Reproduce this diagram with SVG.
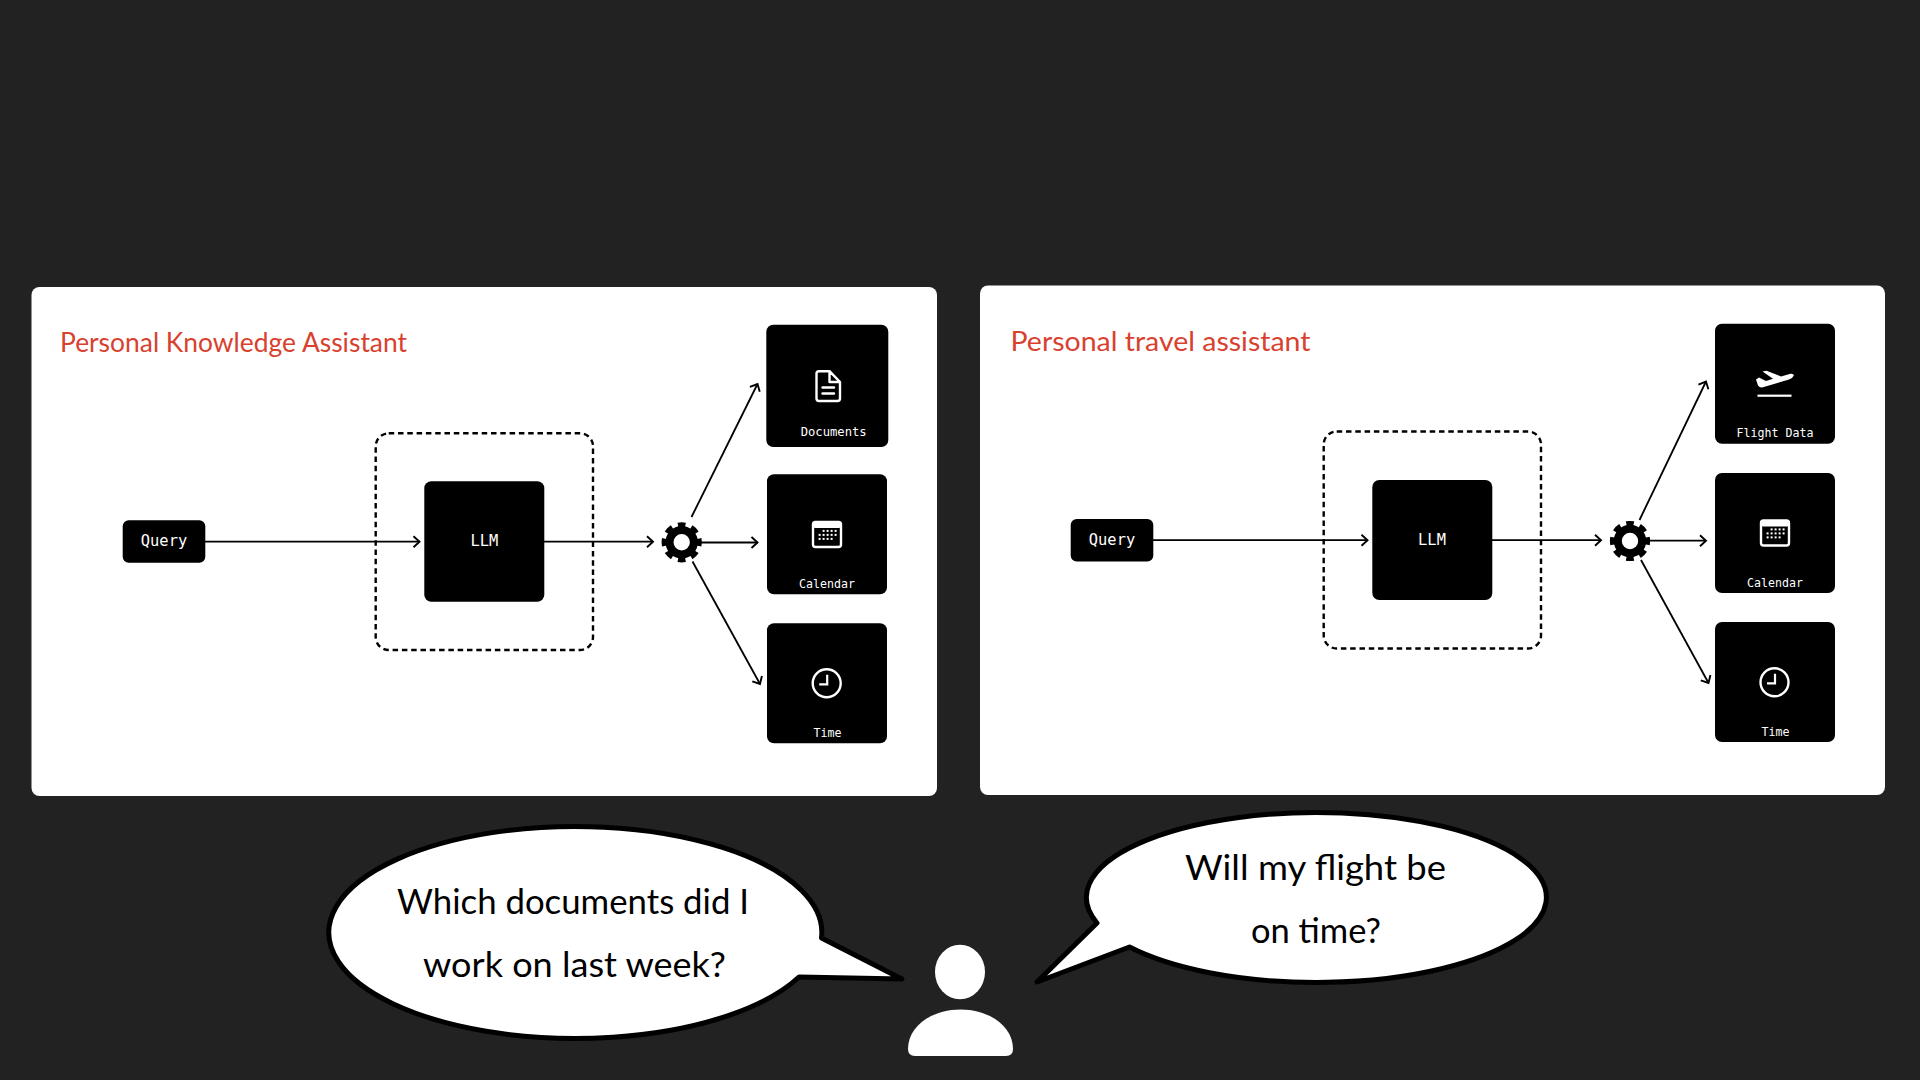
<svg xmlns="http://www.w3.org/2000/svg" xmlns:xlink="http://www.w3.org/1999/xlink" width="1920" height="1080" viewBox="0 0 1920 1080">
<style>
.panel{fill:#fff}
.tile{fill:#000}
.dash{fill:none;stroke:#000;stroke-width:2.4;stroke-dasharray:5.5 3.8}
.link{fill:none;stroke:#000;stroke-width:1.8;marker-end:url(#arrow)}
.mono{font-family:"DejaVu Sans Mono","Liberation Mono",monospace;fill:#fff}
.hand{font-family:"Lato","Open Sans",sans-serif}
.title{fill:#d9412f;font-size:27px;font-weight:400}
.say{fill:#000;font-size:35px;font-weight:400}
.bubble{fill:#fff;stroke:#000;stroke-width:5;stroke-linejoin:round}
.ico{fill:none;stroke:#fff;stroke-width:2.4;stroke-linejoin:round;stroke-linecap:round}
</style>
<defs>
<marker id="arrow" markerUnits="userSpaceOnUse" markerWidth="14" markerHeight="14" refX="9" refY="7" orient="auto">
<path d="M3 1.5L9 7L3 12.5" fill="none" stroke="#000" stroke-width="1.9"/>
</marker>
<g id="gear">
<circle r="12.2" fill="none" stroke="#000" stroke-width="8"/>
<circle r="17.6" fill="none" stroke="#000" stroke-width="5" pathLength="80" stroke-dasharray="5.5 4.5" stroke-dashoffset="2.75"/>
</g>
<g id="cal">
<rect x="-14" y="-12.5" width="28" height="25" rx="2.5" fill="none" stroke="#fff" stroke-width="2.4"/>
<rect x="-14" y="-12.5" width="28" height="6" rx="2" fill="#fff"/>
<g fill="#fff">
<rect x="-4.400" y="-4.600" width="2" height="2"/><rect x="-.4" y="-4.600" width="2" height="2"/><rect x="3.600" y="-4.600" width="2" height="2"/><rect x="7.600" y="-4.600" width="2" height="2"/>
<rect x="-8.400" y="-.6" width="2" height="2"/><rect x="-4.400" y="-.6" width="2" height="2"/><rect x="-.4" y="-.6" width="2" height="2"/><rect x="3.600" y="-.6" width="2" height="2"/><rect x="7.600" y="-.6" width="2" height="2"/>
<rect x="-8.400" y="3.400" width="2" height="2"/><rect x="-4.400" y="3.400" width="2" height="2"/><rect x="-.4" y="3.400" width="2" height="2"/><rect x="3.600" y="3.400" width="2" height="2"/>
</g>
</g>
<g id="clock">
<circle r="14" fill="none" stroke="#fff" stroke-width="2.4"/>
<path d="M0.5 -8.500V1H-7.500" fill="none" stroke="#fff" stroke-width="2.2"/>
</g>
</defs>
<rect width="1920" height="1080" fill="#222222"/>

<g id="panel-left">
<rect class="panel" x="31.5" y="287" width="905.5" height="509" rx="8"/>
<text class="hand title" x="60" y="352" textLength="347" lengthAdjust="spacingAndGlyphs">Personal Knowledge Assistant</text>
</g>
<g id="panel-right">
<rect class="panel" x="980" y="285.500" width="905" height="509.500" rx="8"/>
<text class="hand title" x="1010.500" y="351" textLength="300" lengthAdjust="spacingAndGlyphs">Personal travel assistant</text>
</g>

<g id="connectors">
<path class="link" d="M205 541.700H419.500"/>
<path class="link" d="M544 541.700H653"/>
<path class="link" d="M691.500 517L757.500 384"/>
<path class="link" d="M700 542.500H757.500"/>
<path class="link" d="M692.500 561.500L760 684"/>
<path class="link" d="M1153 540.200H1367.500"/>
<path class="link" d="M1492 540.200H1601"/>
<path class="link" d="M1639.500 520L1706 381.500"/>
<path class="link" d="M1648 540.700H1706"/>
<path class="link" d="M1641 560L1708.500 683"/>
</g>

<g id="left-flow">
<g id="query-left"><rect class="tile" x="122.700" y="520.300" width="82.600" height="42.400" rx="6"/><text class="mono" x="164" y="545.500" font-size="15.400" text-anchor="middle">Query</text></g>
<rect class="dash" x="375.700" y="433.300" width="217.300" height="216.700" rx="13"/>
<g id="llm-left"><rect class="tile" x="424.300" y="481.300" width="120" height="120.400" rx="7"/><text class="mono" x="484.300" y="546" font-size="15.400" text-anchor="middle">LLM</text></g>
<g id="gear-left"><use xlink:href="#gear" href="#gear" x="681.700" y="542.300"/></g>
<g id="documents-left"><rect class="tile" x="766.300" y="324.700" width="122" height="122.300" rx="7"/>
<path class="ico" d="M819 371.200H829.500L840 382V398.500Q840 401 837.500 401H819Q816.500 401 816.500 398.500V373.700Q816.500 371.200 819 371.200ZM829.500 371.200V382H840M822.500 387.500H834M822.500 393.500H834"/>
<text class="mono" x="833.700" y="436" font-size="12.200" text-anchor="middle">Documents</text></g>
<g id="calendar-left"><rect class="tile" x="767" y="474.300" width="120" height="120" rx="7"/><use xlink:href="#cal" href="#cal" x="827" y="534.500"/><text class="mono" x="827" y="588" font-size="11.600" text-anchor="middle">Calendar</text></g>
<g id="time-left"><rect class="tile" x="767" y="623.300" width="120" height="120" rx="7"/><use xlink:href="#clock" href="#clock" x="826.700" y="683.300"/><text class="mono" x="827.500" y="737" font-size="11.600" text-anchor="middle">Time</text></g>
</g>

<g id="right-flow">
<g id="query-right"><rect class="tile" x="1070.700" y="519" width="82.600" height="42.400" rx="6"/><text class="mono" x="1112" y="544.500" font-size="15.400" text-anchor="middle">Query</text></g>
<rect class="dash" x="1323.700" y="431.500" width="217.300" height="217" rx="13"/>
<g id="llm-right"><rect class="tile" x="1372.300" y="480" width="120" height="120" rx="7"/><text class="mono" x="1432" y="545" font-size="15.400" text-anchor="middle">LLM</text></g>
<g id="gear-right"><use xlink:href="#gear" href="#gear" x="1630" y="541"/></g>
<g id="flight-right"><rect class="tile" x="1715" y="323.700" width="120" height="120" rx="7"/>
<path fill="#fff" d="M1756 379.500L1759 377.500L1766 381L1773 378.800L1762.500 371.500L1766.500 370.700L1781 376.500L1790.500 373.800Q1794 373.500 1793.800 375.500Q1793 378 1789 379.500L1762 387.500Q1759.500 387.800 1758 385.500Z"/>
<rect x="1757.500" y="394.600" width="34" height="2.200" fill="#fff"/>
<text class="mono" x="1775" y="437" font-size="11.600" text-anchor="middle">Flight Data</text></g>
<g id="calendar-right"><rect class="tile" x="1715" y="473" width="120" height="120" rx="7"/><use xlink:href="#cal" href="#cal" x="1775" y="533"/><text class="mono" x="1775" y="586.700" font-size="11.600" text-anchor="middle">Calendar</text></g>
<g id="time-right"><rect class="tile" x="1715" y="622" width="120" height="120" rx="7"/><use xlink:href="#clock" href="#clock" x="1774.500" y="682.300"/><text class="mono" x="1775.500" y="735.500" font-size="11.600" text-anchor="middle">Time</text></g>
</g>

<g id="bubble-left">
<path class="bubble" d="M821.500 938A246.500 106 0 1 0 799 977L902 979Z"/>
<text class="hand say" x="397" y="914" textLength="352" lengthAdjust="spacingAndGlyphs">Which documents did I</text>
<text class="hand say" x="423" y="977" textLength="303" lengthAdjust="spacingAndGlyphs">work on last week?</text>
</g>
<g id="bubble-right">
<path class="bubble" d="M1097 923A230 85 0 1 1 1129.500 947L1037 982Z"/>
<text class="hand say" x="1185" y="880" textLength="261" lengthAdjust="spacingAndGlyphs">Will my flight be</text>
<text class="hand say" x="1251" y="943" textLength="130" lengthAdjust="spacingAndGlyphs">on time?</text>
</g>
<g id="person">
<ellipse cx="960" cy="972" rx="25" ry="27.300" fill="#fff"/>
<path fill="#fff" d="M908 1049C908 1026 932 1009.500 960.500 1009.500C989 1009.500 1013 1026 1013 1049Q1013 1056 1006 1056H915Q908 1056 908 1049Z"/>
</g>
</svg>
